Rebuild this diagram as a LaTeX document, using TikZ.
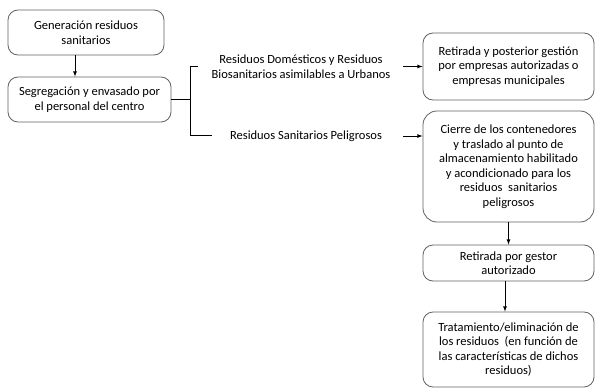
\documentclass[tikz,border=0pt]{standalone}
\usepackage{fontspec}
\setmainfont{Carlito}
\usetikzlibrary{positioning}

\tikzset{
  box/.style={draw=black!62, line width=0.8pt, rounded corners=10pt, align=center,
    inner sep=2pt, font=\fontsize{12.5}{14.5}\selectfont},
  lbl/.style={align=center, inner sep=1pt, font=\fontsize{12.5}{14.5}\selectfont},
  conn/.style={line width=0.8pt, black},
  arr/.style={conn, -{latex[scale=1.2]}}
}

\begin{document}
\begin{tikzpicture}[x=1pt,y=-1pt]
\useasboundingbox (0,0) rectangle (598,388);

% Left column
\node[box, minimum width=156pt, minimum height=45pt] (gen) at (86,32.5)
  {Generación residuos\\sanitarios};
\node[box, minimum width=163pt, minimum height=45pt] (seg) at (89.5,99.5)
  {Segregación y envasado por\\el personal del centro};

% Right column
\node[box, minimum width=171pt, minimum height=67pt] (ret) at (508.5,66.5)
  {Retirada y posterior gestión\\por empresas autorizadas o\\empresas municipales};
\node[box, minimum width=171pt, minimum height=111pt, rounded corners=14pt] (cie) at (508.5,166.5)
  {Cierre de los contenedores\\y traslado al punto de\\almacenamiento habilitado\\y acondicionado para los\\residuos\ \ sanitarios\\peligrosos};
\node[box, minimum width=171pt, minimum height=36pt] (ges) at (508.5,263)
  {Retirada por gestor\\autorizado};
\node[box, minimum width=171pt, minimum height=75pt] (tra) at (508.5,349.5)
  {Tratamiento/eliminación de\\los residuos\ \ (en función de\\las características de dichos\\residuos)};

% Labels
\node[lbl] (dom) at (301,66.5)
  {Residuos Domésticos y Residuos\\Biosanitarios asimilables a Urbanos};
\node[lbl] (pel) at (306,136) {Residuos Sanitarios Peligrosos};

% Fork
\coordinate (d1) at (75,55);
\coordinate (d2) at (505,281);
\coordinate (fork) at (190,99.5);
\coordinate (forktop) at (190,66);
\coordinate (forkbot) at (190,135);
\coordinate (topend) at (198,66);
\coordinate (botend) at (212,135);
\coordinate (a1) at (403,66.5);
\coordinate (a2) at (403,136);

% Connectors
\draw[arr] (d1) -- (d1 |- seg.north);
\draw[conn] (seg.east) -- (fork);
\draw[conn] (topend) -- (forktop) -- (forkbot) -- (botend);
\draw[arr] (a1) -- (ret.west);
\draw[arr] (a2) -- (a2 -| cie.west);
\draw[arr] (cie) -- (ges);
\draw[arr] (d2) -- (d2 |- tra.north);
\end{tikzpicture}
\end{document}
